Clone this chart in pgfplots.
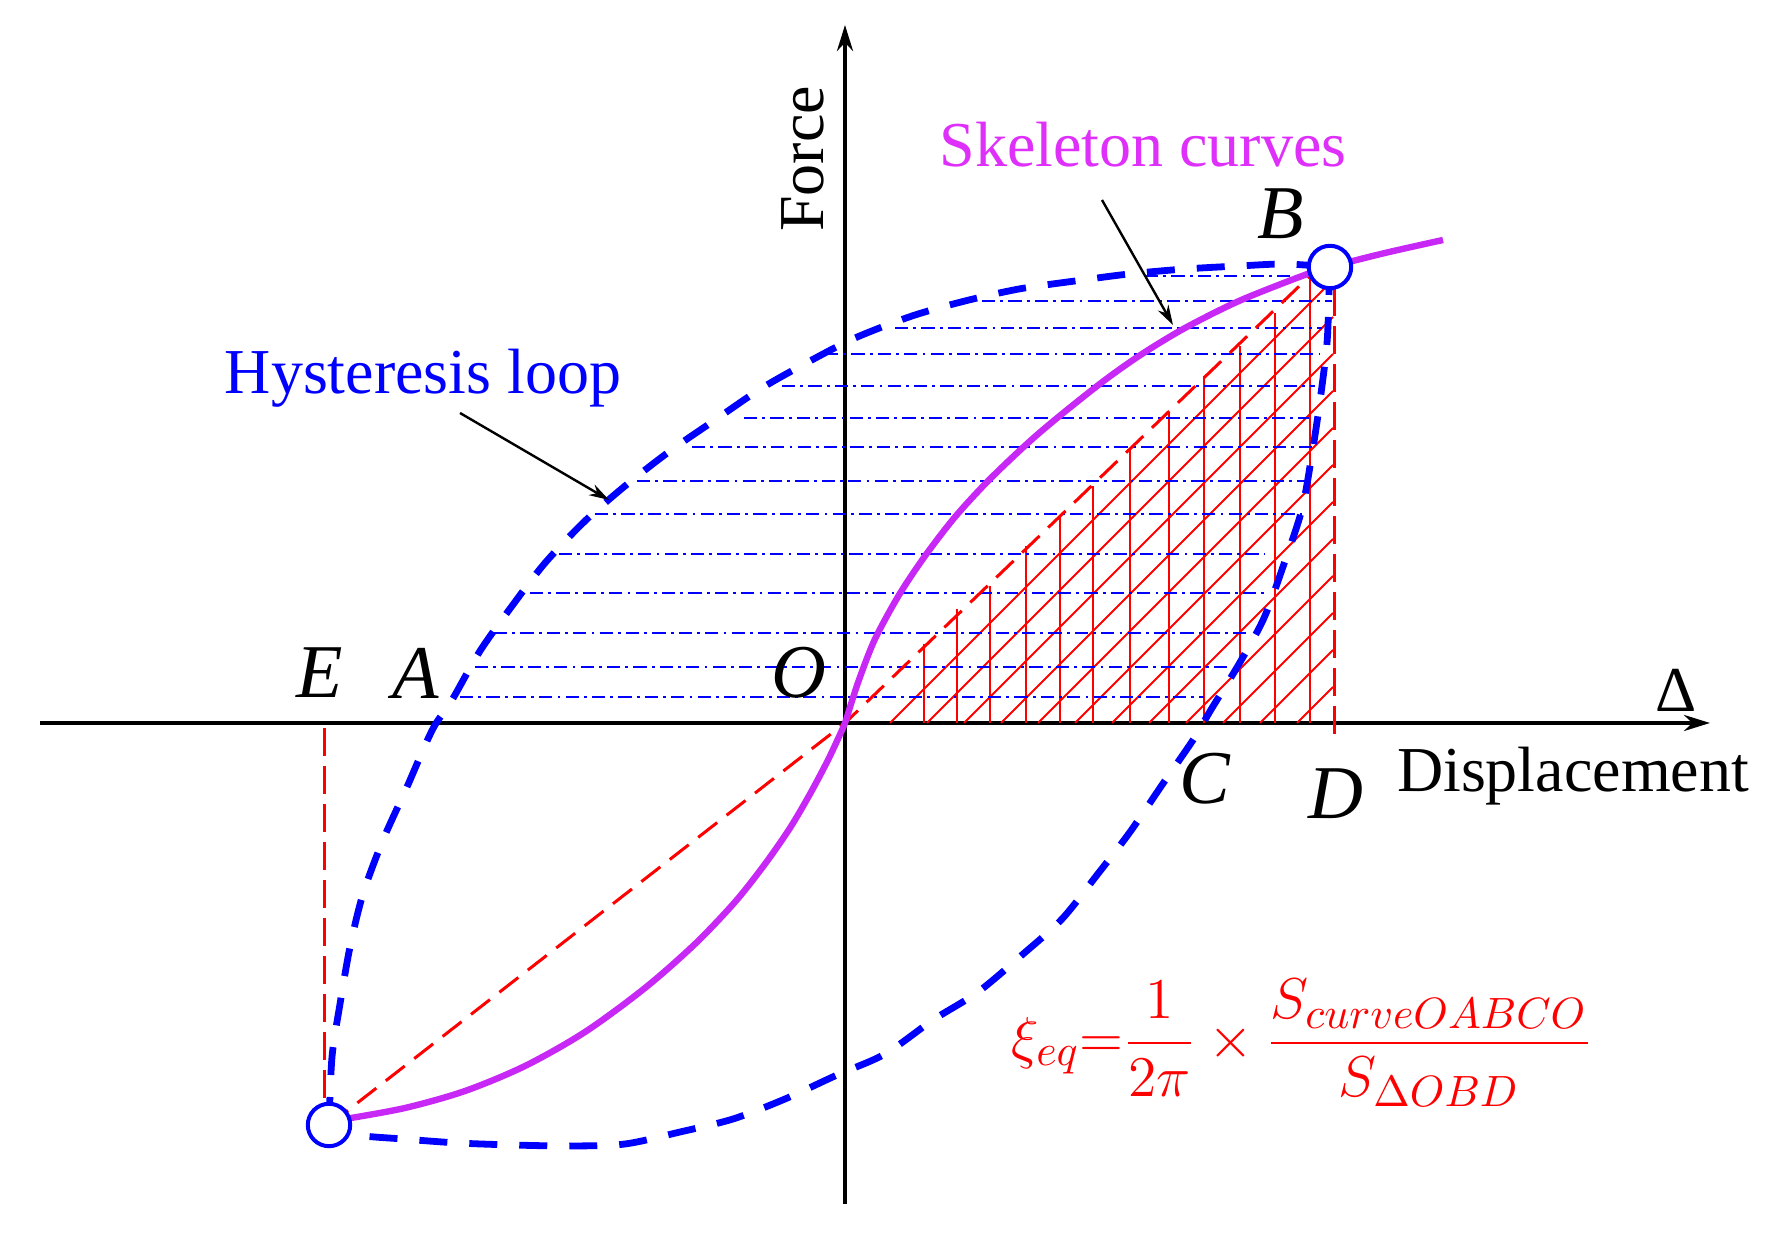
\documentclass[border=0pt]{standalone}
\usepackage{pgfplots}
\pgfplotsset{compat=1.18}
\usepackage{fontspec}
\setmainfont{Liberation Serif}
\usetikzlibrary{arrows.meta}
\definecolor{loopblue}{RGB}{0,0,255}
\definecolor{skel}{RGB}{200,40,245}
\definecolor{skeltext}{RGB}{222,48,250}
\definecolor{hred}{RGB}{255,0,0}
\begin{document}
\begin{tikzpicture}
\begin{axis}[
  x=0.25pt, y=0.25pt,
  xmin=-805, xmax=865, ymin=-481, ymax=698,
  axis lines=middle,
  axis line style={line width=1pt, -{Stealth[length=6.5pt,width=4pt]}},
  xtick=\empty, ytick=\empty,
  clip=false,
  unbounded coords=jump,
]
% hatch diagonals
\addplot[hred, line width=0.5pt] coordinates {
(45,0) (488,443) (nan,nan)
(82,0) (488,406) (nan,nan)
(119,0) (488,369) (nan,nan)
(156,0) (488,332) (nan,nan)
(193,0) (488,295) (nan,nan)
(230,0) (488,258) (nan,nan)
(267,0) (488,221) (nan,nan)
(304,0) (488,184) (nan,nan)
(341,0) (488,147) (nan,nan)
(378,0) (488,110) (nan,nan)
(415,0) (488,73) (nan,nan)
(452,0) (488,36)
};
% hatch verticals
\addplot[hred, line width=0.5pt] coordinates {
(79,0) (79,79) (nan,nan)
(112,0) (112,114) (nan,nan)
(145,0) (145,137) (nan,nan)
(181,0) (181,177) (nan,nan)
(215,0) (215,207) (nan,nan)
(248,0) (248,237) (nan,nan)
(285,0) (285,274) (nan,nan)
(324,0) (324,310) (nan,nan)
(359,0) (359,347) (nan,nan)
(395,0) (395,377) (nan,nan)
(430,0) (430,410) (nan,nan)
(465,0) (465,449)
};
% blue dash-dot horizontals
\addplot[loopblue, line width=0.6pt, dash pattern=on 3.3pt off 1.3pt on 0.7pt off 1.3pt] coordinates {
(300,447) (464,447) (nan,nan)
(137,422) (487,422) (nan,nan)
(50,395) (477,395) (nan,nan)
(-20,369) (474,369) (nan,nan)
(-63,337) (470,337) (nan,nan)
(-101,305) (464,305) (nan,nan)
(-153,276) (467,276) (nan,nan)
(-208,242) (459,242) (nan,nan)
(-250,209) (457,209) (nan,nan)
(-286,169) (420,169) (nan,nan)
(-315,130) (424,130) (nan,nan)
(-351,90) (402,90) (nan,nan)
(-370,56) (384,56) (nan,nan)
(-385,26) (359,26)
};
% red dashed lines
\addplot[hred, line width=0.75pt, dash pattern=on 6pt off 3pt] coordinates {(-516,-402) (0,0) (470,452)};
\addplot[hred, line width=0.75pt, dash pattern=on 7pt off 2.5pt] coordinates {(489,435) (489,-17)};
\addplot[hred, line width=0.75pt, dash pattern=on 7pt off 2.5pt] coordinates {(-521,-5) (-521,-404)};
% hysteresis loop upper branch
\addplot[loopblue, line width=1.7pt, dash pattern=on 7pt off 5.5pt, smooth] coordinates {
(-516,-402) (-513,-334) (-505,-281) (-495,-224) (-482,-171) (-462,-117) (-438,-64) (-422,-27) (-410,-2)
(-393,23) (-365,72) (-333,117) (-300,160) (-260,202) (-220,237) (-175,272) (-130,303) (-83,335) (-35,362)
(10,385) (67,407) (120,422) (174,434) (230,442) (284,449) (340,454) (394,457) (440,459) (485,456)
};
% hysteresis loop lower branch
\addplot[loopblue, line width=1.7pt, dash pattern=on 7pt off 5.5pt, smooth] coordinates {
(485,456) (484,430) (482,380) (475,322) (467,269) (457,214) (440,162) (419,105) (394,59) (367,15)
(348,-17) (317,-62) (285,-109) (252,-152) (217,-196) (177,-232) (133,-269) (88,-297) (40,-331) (-8,-352)
(-60,-376) (-112,-396) (-165,-409) (-220,-421) (-275,-423) (-332,-422) (-387,-420) (-442,-416) (-488,-412) (-516,-402)
};
% skeleton curve
\addplot[skel, line width=1.6pt, smooth] coordinates {
(-500,-396) (-440,-385) (-380,-368) (-320,-343) (-260,-309) (-200,-265) (-150,-221) (-110,-179) (-80,-141)
(-55,-105) (-35,-71) (-18,-39) (-8,-18) (0,0) (6,19) (15,46) (30,84) (54,128) (80,167) (110,206) (144,243)
(184,281) (217,309) (260,343) (297,369) (340,395) (394,422) (457,447) (485,456) (540,470) (598,483)
};
% circles
\addplot[only marks, mark=*, mark size=5.3pt, mark options={draw=loopblue, fill=white, line width=1pt}] coordinates {(485,456) (-516,-402)};
% annotation arrows
\draw[-{Stealth[length=5pt,width=3pt]}, line width=0.6pt] (axis cs:257,523) -- (axis cs:328,398);
\draw[-{Stealth[length=5pt,width=3pt]}, line width=0.6pt] (axis cs:-385,310) -- (axis cs:-236,223);
% labels
\node[font=\fontsize{19}{22}\selectfont\itshape] at (axis cs:-525,50) {E};
\node[font=\fontsize{19}{22}\selectfont\itshape] at (axis cs:-429,50) {A};
\node[font=\fontsize{19}{22}\selectfont\itshape] at (axis cs:-46,50) {O};
\node[font=\fontsize{19}{22}\selectfont\itshape] at (axis cs:436,509) {B};
\node[font=\fontsize{19}{22}\selectfont\itshape] at (axis cs:360,-56) {C};
\node[font=\fontsize{19}{22}\selectfont\itshape] at (axis cs:491,-71) {D};
\node[font=\fontsize{16}{19}\selectfont] at (axis cs:831,33) {Δ};
\node[font=\fontsize{16}{19}\selectfont, anchor=base] at (axis cs:728,-69) {Displacement};
\node[font=\fontsize{16}{19}\selectfont, anchor=base, rotate=90] at (axis cs:-22,564) {Force};
\node[font=\fontsize{16}{19}\selectfont, anchor=base, text=skeltext] at (axis cs:298,556) {Skeleton curves};
\node[font=\fontsize{16}{19}\selectfont, anchor=base, text=loopblue] at (axis cs:-422,329) {Hysteresis loop};
\node[font=\fontsize{15}{18}\selectfont, text=hred] at (axis cs:457,-320) {$\displaystyle \xi_{eq}{=}\frac{1}{2\pi}\times\frac{S_{curveOABCO}}{S_{\Delta OBD}}$};
\coordinate (bbsw) at (axis cs:-845,-520);
\coordinate (bbne) at (axis cs:936,723);
\end{axis}
\pgfresetboundingbox
\useasboundingbox (bbsw) rectangle (bbne);
\end{tikzpicture}
\end{document}
